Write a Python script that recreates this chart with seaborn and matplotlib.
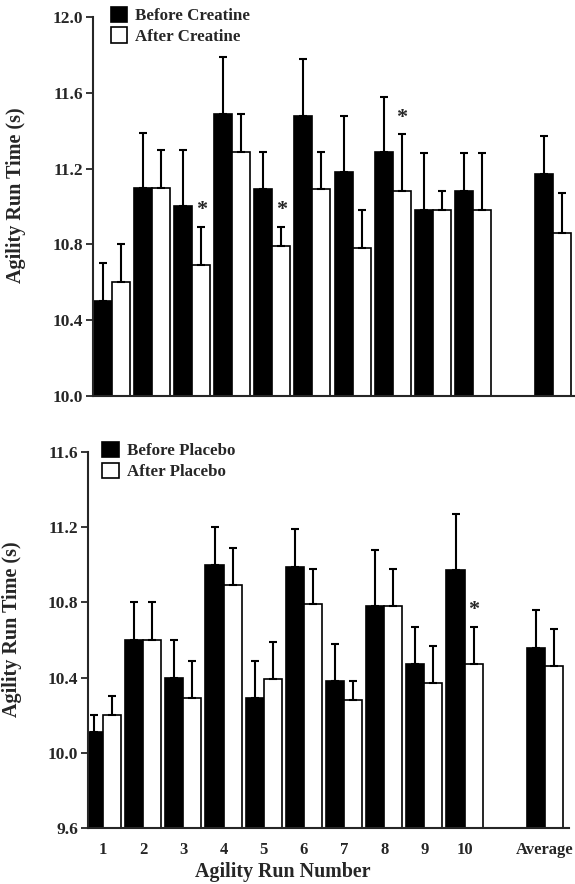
import matplotlib
matplotlib.use("Agg")
import matplotlib.pyplot as plt
from matplotlib.patches import Patch
import seaborn as sns
import pandas as pd

# ---------------- data ----------------
run_labels = ["1", "2", "3", "4", "5", "6", "7", "8", "9", "10", "Average"]
run_pos = [1, 2, 3, 4, 5, 6, 7, 8, 9, 10, 12]

creatine_before = [10.50, 11.10, 11.00, 11.49, 11.09, 11.48, 11.18, 11.29, 10.98, 11.08, 11.17]
creatine_after = [10.60, 11.10, 10.69, 11.29, 10.79, 11.09, 10.78, 11.08, 10.98, 10.98, 10.86]
creatine_before_sd = [0.20, 0.29, 0.30, 0.30, 0.20, 0.30, 0.30, 0.29, 0.30, 0.20, 0.20]
creatine_after_sd = [0.20, 0.20, 0.20, 0.20, 0.10, 0.20, 0.20, 0.30, 0.10, 0.30, 0.21]
creatine_sig = ["3", "5", "8"]

placebo_before = [10.11, 10.60, 10.40, 11.00, 10.29, 10.99, 10.38, 10.78, 10.47, 10.97, 10.56]
placebo_after = [10.20, 10.60, 10.29, 10.89, 10.39, 10.79, 10.28, 10.78, 10.37, 10.47, 10.46]
placebo_before_sd = [0.09, 0.20, 0.20, 0.20, 0.20, 0.20, 0.20, 0.30, 0.20, 0.30, 0.20]
placebo_after_sd = [0.10, 0.20, 0.20, 0.20, 0.20, 0.19, 0.10, 0.20, 0.20, 0.20, 0.20]
placebo_sig = ["10"]

creatine_ticks = [10.0, 10.4, 10.8, 11.2, 11.6, 12.0]
placebo_ticks = [9.6, 10.0, 10.4, 10.8, 11.2, 11.6]

# ---------------- style ----------------
sns.set_style("ticks")
plt.rcParams["font.family"] = ["Liberation Serif", "DejaVu Serif"]
plt.rcParams["font.weight"] = "bold"
plt.rcParams["axes.labelweight"] = "bold"

W, H = 575, 884
fig = plt.figure(figsize=(W / 100, H / 100), dpi=100)


def panel(rect, before, after, bsd, asd, sig, labels, ylim, yticks, xlim, show_x, leg_x):
    ax = fig.add_axes(rect)
    df = pd.DataFrame({
        "pos": run_pos * 2,
        "time": before + after,
        "phase": [labels[0]] * len(before) + [labels[1]] * len(after),
    })
    sns.barplot(data=df, x="pos", y="time", hue="phase", native_scale=True,
                palette={labels[0]: "black", labels[1]: "white"},
                edgecolor="black", linewidth=1.2, width=0.9, errorbar=None,
                legend=False, ax=ax, saturation=1)
    for cont, sds in zip(ax.containers, [bsd, asd]):
        cx = [b.get_x() + b.get_width() / 2 for b in cont]
        top = [b.get_height() for b in cont]
        ax.errorbar(cx, top, yerr=[[0] * len(sds), sds], fmt="none",
                    ecolor="black", elinewidth=1.5, capsize=3.2, capthick=1.5,
                    zorder=1)
    # significance stars above the "after" bars
    after_cont = ax.containers[1]
    for lab in sig:
        i = run_labels.index(lab)
        b = after_cont[i]
        ax.annotate("*", (b.get_x() + b.get_width() / 2, after[i] + asd[i]),
                    xytext=(0, 5), textcoords="offset points",
                    ha="center", va="bottom", fontsize=16, fontweight="bold")
    ax.set_xlim(*xlim)
    ax.set_ylim(*ylim)
    ax.set_yticks(yticks)
    ax.set_yticklabels([f"{t:.1f}" for t in yticks])
    ax.set_xticks(run_pos)
    if show_x:
        ax.set_xticklabels(run_labels)
    else:
        ax.set_xticklabels([])
    ax.tick_params(axis="x", length=0, pad=10, labelsize=12)
    ax.tick_params(axis="y", length=5, width=1.3, direction="out", labelsize=12.5, pad=2)
    for s in ["top", "right"]:
        ax.spines[s].set_visible(False)
    for s in ["left", "bottom"]:
        ax.spines[s].set_linewidth(1.5)
    ax.set_xlabel("")
    ax.set_ylabel("Agility Run Time (s)", fontsize=14.5, fontweight="bold")
    handles = [Patch(facecolor="black", edgecolor="black", linewidth=1.2),
               Patch(facecolor="white", edgecolor="black", linewidth=1.2)]
    ax.legend(handles, labels, loc="upper left", bbox_to_anchor=(leg_x, 1.045),
              frameon=False, handlelength=0.95, handleheight=1.0,
              handletextpad=0.5, labelspacing=0.2, borderaxespad=0,
              prop={"family": "Liberation Serif", "weight": "bold", "size": 12.2})
    return ax


ax1 = panel([93 / W, 1 - 396 / H, 482 / W, 379 / H],
            creatine_before, creatine_after, creatine_before_sd, creatine_after_sd,
            creatine_sig, ["Before Creatine", "After Creatine"],
            (10.0, 12.0), creatine_ticks, (0.525, 12.55), False, 0.023)
ax1.yaxis.set_label_coords(-0.14, 0.53)

ax2 = panel([88 / W, 1 - 828 / H, 481 / W, 376 / H],
            placebo_before, placebo_after, placebo_before_sd, placebo_after_sd,
            placebo_sig, ["Before Placebo", "After Placebo"],
            (9.6, 11.6), placebo_ticks, (0.625, 12.6), True, 0.016)
ax2.yaxis.set_label_coords(-0.138, 0.53)
ax2.set_xlabel("Agility Run Number", fontsize=14.4, fontweight="bold")
ax2.xaxis.set_label_coords(0.405, -0.09)

fig.savefig("out.png", dpi=100)
